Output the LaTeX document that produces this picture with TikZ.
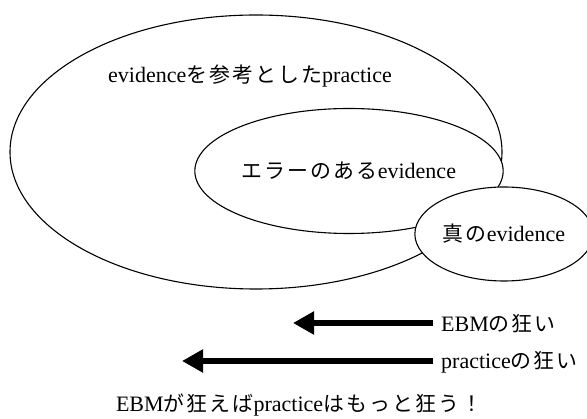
\documentclass[tikz,border=0pt]{standalone}
\usepackage{fontspec}
\setmainfont{Liberation Serif}
\newfontfamily\jp[Scale=0.95,LetterSpace=10]{Noto Sans CJK JP}
\usetikzlibrary{arrows.meta,positioning,shapes.geometric}
\newcommand{\ja}[1]{{\jp #1}}

\begin{document}
\begin{tikzpicture}[x=1pt,y=-1pt,
    region/.style={ellipse,draw,line width=1.1pt,fill=white,inner sep=0pt},
    txt/.style={font=\fontsize{22}{26}\selectfont,inner sep=2pt},
    aimtxt/.style={txt,anchor=west,inner xsep=8pt},
    bigarrow/.style={-{Triangle[length=21pt,width=22pt]},line width=5.5pt}
]
\useasboundingbox (0,0) rectangle (587,419);
\node[region,minimum width=492pt,minimum height=274pt] (practice) at (256,152) {};
\node[txt] (practicetxt) at (250,76) {evidence\ja{を参考とした}practice};
\node[region,txt,minimum width=308pt,minimum height=125pt] (error) at (349,171) {\ja{エラーのある}evidence};
\node[region,txt,minimum width=156pt,minimum height=94pt] (true) at (504,234) {\ja{真の}evidence};
\node[aimtxt] (ebm) at (433,324) {EBM\ja{の狂い}};
\node[aimtxt] (prac) at (433,362) {practice\ja{の狂い}};
\coordinate (ebmtip) at (293,323);
\coordinate (practip) at (182,361);
\draw[bigarrow] (ebm.west |- ebmtip) -- (ebmtip);
\draw[bigarrow] (prac.west |- practip) -- (practip);
\node[txt] (summary) at (299,405) {EBM\ja{が狂えば}practice\ja{はもっと狂う！}};
\end{tikzpicture}
\end{document}
